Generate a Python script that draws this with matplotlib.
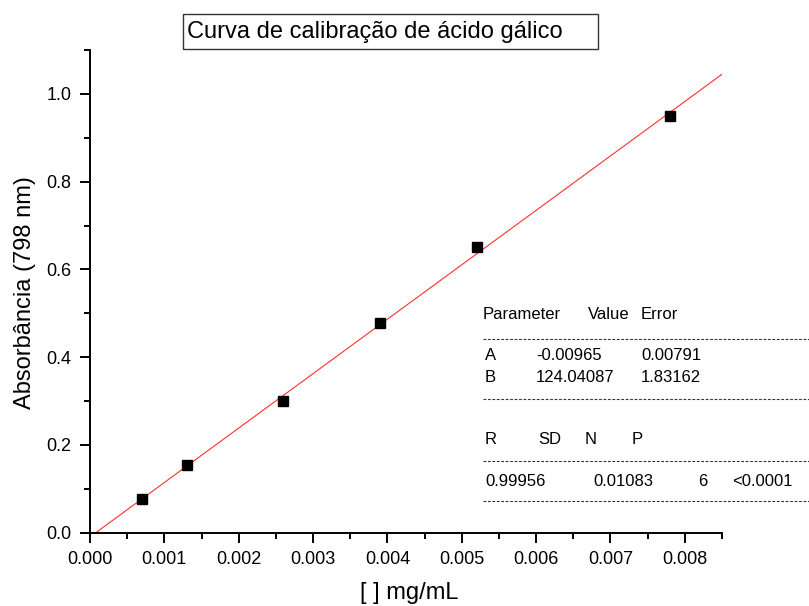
import matplotlib
matplotlib.use("Agg")
import matplotlib.pyplot as plt
from matplotlib.ticker import MultipleLocator, FormatStrFormatter
from matplotlib.lines import Line2D
from matplotlib.patches import Rectangle
import numpy as np

plt.rcParams['font.family'] = ['Liberation Sans', 'DejaVu Sans']

# Data
conc = [0.0007, 0.0013, 0.0026, 0.0039, 0.0052, 0.0078]
absorb = [0.077, 0.155, 0.300, 0.478, 0.650, 0.950]
fit_A = -0.00965
fit_B = 124.04087

title = "Curva de calibração de ácido gálico"
xlabel = "[ ] mg/mL"
ylabel = "Absorbância (798 nm)"

table_header = ["Parameter", "Value", "Error"]
table_rows = [["A", "-0.00965", "0.00791"], ["B", "124.04087", "1.83162"]]
stat_header = ["R", "SD", "N", "P"]
stat_values = ["0.99956", "0.01083", "6", "<0.0001"]

W, H = 809, 606
fig = plt.figure(figsize=(W / 100, H / 100), dpi=100)
L, R, T, B = 90, 722, 50, 532.7
ax = fig.add_axes([L / W, 1 - B / H, (R - L) / W, (B - T) / H])

xmin, xmax = 0.0, 0.0085
ax.set_xlim(xmin, xmax)
ax.set_ylim(0.0, 1.1)

xs = np.array([xmin, xmax])
ax.plot(xs, fit_A + fit_B * xs, color='#ff3030', lw=0.8, zorder=2)
ax.plot(conc, absorb, 's', color='black', ms=6.5, zorder=3)

for s in ['top', 'right']:
    ax.spines[s].set_visible(False)
for s in ['left', 'bottom']:
    ax.spines[s].set_linewidth(1.4)

ax.xaxis.set_major_locator(MultipleLocator(0.001))
ax.xaxis.set_minor_locator(MultipleLocator(0.0005))
ax.yaxis.set_major_locator(MultipleLocator(0.2))
ax.yaxis.set_minor_locator(MultipleLocator(0.1))
ax.xaxis.set_major_formatter(FormatStrFormatter('%.3f'))
ax.yaxis.set_major_formatter(FormatStrFormatter('%.1f'))
ax.tick_params(which='major', direction='out', length=7.5, width=1.4, labelsize=13, pad=6)
ax.tick_params(which='minor', direction='out', length=4, width=1.4)

def px(x, y):
    return x / W, 1 - y / H

fig.text(*px(25, 293), ylabel, fontsize=17, rotation=90, ha='center', va='center')
fig.text(*px(409, 593), xlabel, fontsize=17, ha='center', va='center')

# title box
x0, y0 = px(182.7, 49)
x1, y1 = px(597.7, 14)
fig.add_artist(Rectangle((x0, y0), x1 - x0, y1 - y0, transform=fig.transFigure,
                         fc='white', ec='#333333', lw=1.0))
fig.text(*px(187, 32), title, fontsize=17, ha='left', va='center')

fs = 12
def t(x, y, s):
    fig.text(*px(x, y), s, fontsize=fs, ha='left', va='center')

t(483, 314, table_header[0]); t(588, 314, table_header[1]); t(641, 314, table_header[2])
for (row, yy) in zip(table_rows, [356, 377]):
    t(485, yy, row[0]); t(536, yy, row[1]); t(641, yy, row[2])
for s, xx in zip(stat_header, [485, 538, 585, 632]):
    t(xx, 439, s)
for s, xx in zip(stat_values, [485, 593, 698, 732]):
    t(xx, 481, s)

for yy in [339, 399, 461, 501]:
    xa, ya = px(483, yy)
    fig.add_artist(Line2D([xa, 1.0], [ya, ya], transform=fig.transFigure,
                          color='#333333', lw=0.8, ls=(0, (2.5, 1.5))))

fig.savefig("out.png", dpi=100)
